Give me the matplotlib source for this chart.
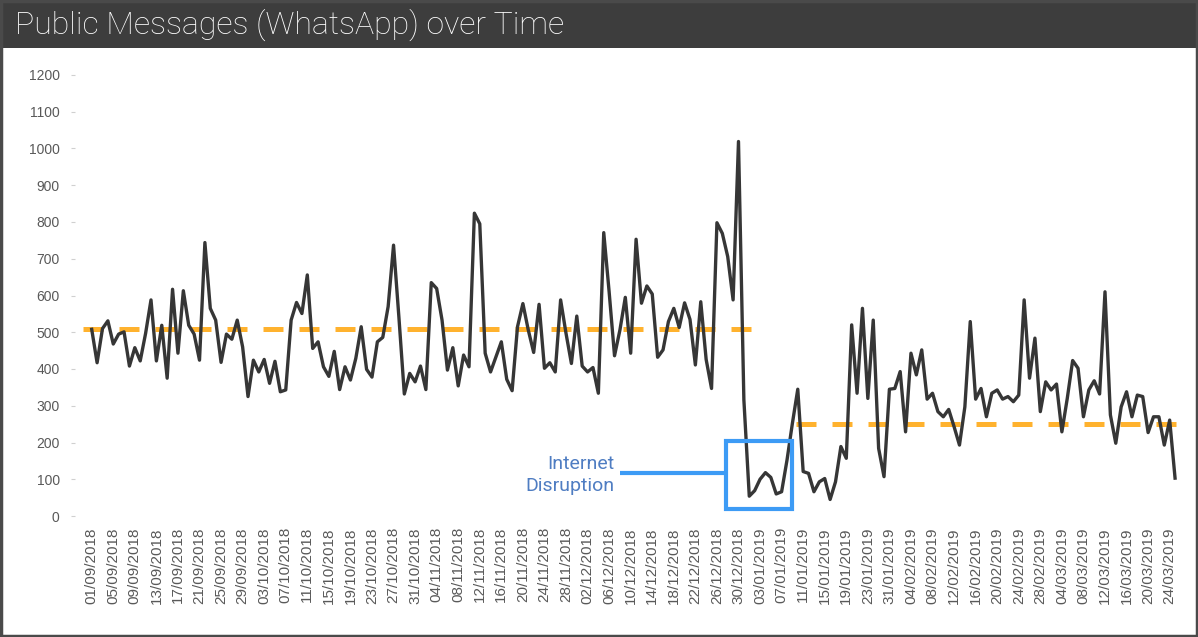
import numpy as np
import pandas as pd
import matplotlib
matplotlib.use("Agg")
import matplotlib.pyplot as plt
from matplotlib.patches import Rectangle

# %% DATA - daily public WhatsApp messages
before = [508, 417, 510, 531, 468, 495, 501, 408, 458, 422,
          497, 588, 422, 519, 375, 617, 443, 613, 519, 495,
          424, 744, 565, 533, 418, 495, 481, 533, 460, 325,
          424, 392, 426, 361, 421, 338, 343, 533, 581, 551,
          656, 456, 474, 406, 380, 448, 344, 406, 370, 429,
          515, 399, 378, 474, 486, 570, 737, 540, 332, 388,
          365, 408, 344, 635, 619, 533, 397, 458, 354, 438,
          406, 824, 795, 443, 392, 433, 474, 372, 341, 515,
          578, 506, 445, 576, 402, 417, 392, 588, 497, 415,
          544, 408, 392, 404, 334, 771, 610, 436, 506, 595,
          443, 753, 579, 626, 604, 432, 452, 529, 565, 513,
          580, 535, 411, 583, 426, 347, 798, 769, 706, 588,
          1019, 316]
after = [54, 69, 100, 118, 105, 60, 66, 152, 252, 345,
         121, 116, 66, 93, 102, 45, 93, 189, 157, 520,
         334, 565, 320, 533, 184, 107, 345, 347, 393, 229,
         443, 384, 452, 318, 334, 284, 270, 290, 243, 193,
         297, 529, 318, 347, 270, 334, 343, 318, 325, 311,
         329, 588, 375, 484, 284, 365, 343, 359, 229, 320,
         423, 402, 270, 343, 368, 332, 610, 275, 198, 297,
         338, 270, 329, 325, 227, 270, 270, 193, 261, 103]
messages = before + after

# days with no row in the source table
missing_days = ['2019-01-26', '2019-01-27', '2019-01-28', '2019-01-29']
dates = pd.date_range('2018-09-01', '2019-03-25').drop(pd.to_datetime(missing_days))

mean_before = 510
mean_after = 250

# %% PLOT
plt.rcParams['font.family'] = ['Liberation Sans', 'DejaVu Sans']

W, H = 1198, 637
fig = plt.figure(figsize=(W / 100, H / 100), dpi=100)
fig.patch.set_facecolor('white')

# title band
band_h = 48 / H
fig.patches.append(Rectangle((0, 1 - band_h), 1, band_h, transform=fig.transFigure,
                             facecolor='#3d3d3d', edgecolor='none', zorder=0))
fig.patches.append(Rectangle((0.001, 0.002), 0.998, 0.997, transform=fig.transFigure,
                             facecolor='none', edgecolor='#4a4a4a', lw=2.5, zorder=1))
fig.text(15 / W, 1 - 25 / H, 'Public Messages (WhatsApp) over Time', color='white',
         fontsize=23, family=['Roboto', 'DejaVu Sans'], fontweight='light', va='center', ha='left')

ax = fig.add_axes([75 / W, (H - 516) / H, (1188 - 75) / W, (516 - 75) / H])
x = np.arange(len(messages))

ax.hlines(mean_before, -1.6, 122.5, colors='#FFB22E', lw=3.6, linestyles=(0, (4, 3.2)), zorder=2)
ax.hlines(mean_after, 130.7, 202.8, colors='#FFB22E', lw=3.6, linestyles=(0, (4, 3.2)), zorder=2)
ax.plot(x, messages, color='#363636', lw=2.4, zorder=3)

# internet disruption marker
ax.add_patch(Rectangle((117.6, 20), 12.4, 183, facecolor='none', edgecolor='#3D9BF5',
                       lw=3, zorder=4))
ax.plot([98, 117.6], [116, 116], color='#3D9BF5', lw=3, zorder=4, solid_capstyle='butt')
ax.text(97, 112, 'Internet\nDisruption', color='#4F7DC2', fontsize=14, ha='right', va='center',
        family=['Roboto', 'DejaVu Sans'], linespacing=1.3, multialignment='right')

ax.set_xlim(-3.1, 203.4)
ax.set_ylim(0, 1200)
ax.set_yticks(np.arange(0, 1201, 100))
ticks = x[::4]
ax.set_xticks(ticks)
ax.set_xticklabels([dates[i].strftime('%d/%m/%Y') for i in ticks], rotation=90)
ax.tick_params(axis='x', length=0, labelsize=11, colors='#595959', pad=8)
ax.tick_params(axis='y', length=3, width=0.8, color='#d0d0d0', labelsize=10,
               labelcolor='#595959', pad=8)
for s in ax.spines.values():
    s.set_visible(False)

plt.savefig('out.png', dpi=100)
